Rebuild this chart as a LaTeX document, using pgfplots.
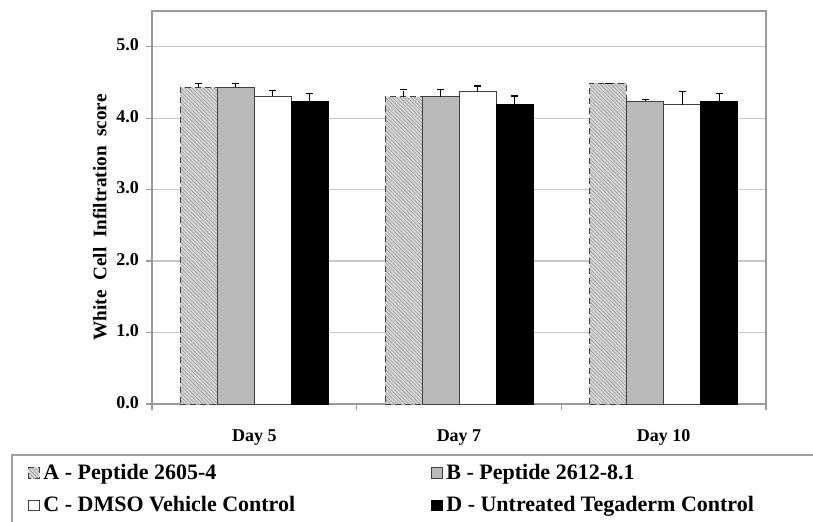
\documentclass[border=0pt]{standalone}
\usepackage{pgfplots}
\pgfplotsset{compat=1.18}
\usepackage{fontspec}
\setmainfont{Liberation Serif}
\usetikzlibrary{patterns.meta}
\begin{document}
\begin{tikzpicture}
\begin{axis}[
  at={(0,0)}, anchor=south west,
  scale only axis, width=307pt, height=196.5pt,
  xmin=-0.5, xmax=2.5, ymin=0, ymax=5.5,
  ybar=0pt, bar width=18.5pt,
  xtick={0,1,2}, xticklabels={Day 5,Day 7,Day 10},
  minor xtick={-0.5,0.5,1.5,2.5},
  major x tick style={draw=none},
  minor tick length=3pt,
  ytick={0,1,2,3,4,5},
  tick align=outside, major tick length=3pt,
  xtick pos=bottom, ytick pos=left,
  yticklabel style={/pgf/number format/.cd, fixed, fixed zerofill, precision=1, assume math mode=true},
  ticklabel style={font=\bfseries\fontsize{9}{10}\selectfont},
  typeset ticklabels with strut,
  xticklabel style={yshift=-5pt},
  ylabel={\bfseries White\ \ Cell\ \ Infiltration\ \ score},
  ylabel style={font=\fontsize{9.6}{10}\selectfont, at={(axis description cs:-0.085,0.475)}, anchor=center},
  ymajorgrids, grid style={gray!45, line width=0.6pt},
  axis line style={gray!80, line width=0.8pt},
  tick style={gray!80, line width=0.6pt},
  legend columns=2,
  legend style={at={(-0.212,-0.132)}, anchor=north west, draw=none, fill=none,
    font=\bfseries\fontsize{11}{12}\selectfont, row sep=3pt,
    /tikz/every even column/.append style={column sep=66pt}},
  legend cell align=left,
  legend image code/.code={\draw[#1, line width=0.4pt] (0pt,-2.6pt) rectangle (5.2pt,2.8pt);},
  error bars/y dir=plus, error bars/y explicit,
  error bars/error mark options={rotate=90, mark size=1.8pt, line width=0.6pt, black},
  error bars/error bar style={line width=0.6pt, black},
]
\addplot[draw=black!75, densely dashed, fill=gray!30, postaction={pattern={Lines[angle=-45,distance=1.3pt,line width=0.3pt]}, pattern color=gray!85}]
  coordinates {(0,4.43) +- (0,0.06) (1,4.30) +- (0,0.10) (2,4.49) +- (0,0.0)};
\addlegendentry{A - Peptide 2605-4}
\addplot[draw=black!75, fill=gray!55]
  coordinates {(0,4.43) +- (0,0.06) (1,4.30) +- (0,0.10) (2,4.24) +- (0,0.02)};
\addlegendentry{B - Peptide 2612-8.1}
\addplot[draw=black!75, fill=white]
  coordinates {(0,4.31) +- (0,0.08) (1,4.37) +- (0,0.08) (2,4.19) +- (0,0.18)};
\addlegendentry{C - DMSO Vehicle Control}
\addplot[draw=black, fill=black]
  coordinates {(0,4.24) +- (0,0.10) (1,4.19) +- (0,0.12) (2,4.24) +- (0,0.10)};
\addlegendentry{D - Untreated Tegaderm Control}
\end{axis}
\draw[gray!75, line width=1pt] (-70pt,-25.5pt) rectangle (340pt,-70pt);
\pgfresetboundingbox
\path[use as bounding box] (-76pt,-58.5pt) rectangle (330.5pt,202pt);
\end{tikzpicture}
\end{document}
